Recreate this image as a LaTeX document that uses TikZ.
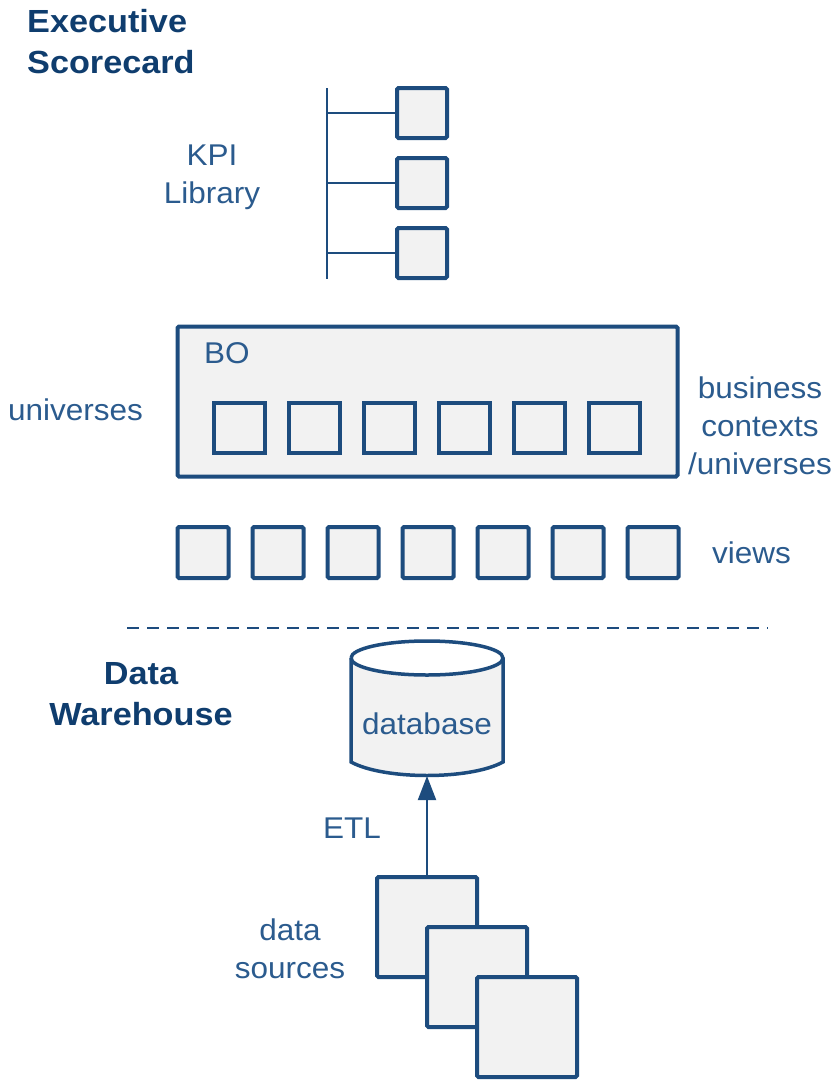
\documentclass[tikz,border=0pt]{standalone}
\usepackage{fontspec}
\setmainfont{Liberation Sans}
\newfontfamily\lblfont[FakeStretch=1.05]{Liberation Sans}
\newfontfamily\hdfont[FakeStretch=1.07]{Liberation Sans}
\usetikzlibrary{arrows.meta}
\definecolor{txtblue}{HTML}{2B5B8E}
\definecolor{hdblue}{HTML}{0F3D6E}
\definecolor{lineblue}{HTML}{1D4C7E}
\definecolor{boxfill}{HTML}{F2F2F2}
\tikzset{
  sq/.style={draw=lineblue, line width=4pt, fill=boxfill, rounded corners=1.5pt},
  lbl/.style={text=txtblue, font=\lblfont\fontsize{30}{38}\selectfont, inner sep=0pt, align=center},
  hd/.style={text=hdblue, font=\hdfont\bfseries\fontsize{32}{41}\selectfont, inner sep=0pt},
  conn/.style={draw=lineblue, line width=2pt},
}
\begin{document}
\begin{tikzpicture}[x=1pt,y=-1pt]
\useasboundingbox (0,0) rectangle (837,1081);
% headings
\node[hd, align=left, anchor=north west] (exec) at (27,9) {Executive\\Scorecard};
\node[lbl] (kpi) at (212,177) {KPI\\Library};
% KPI tree
\coordinate (vtop) at (327,88);
\coordinate (vbot) at (327,279);
\draw[conn] (vtop) -- (vbot);
\foreach \i/\y in {1/113,2/183,3/253}{
  \node[sq, minimum width=50pt, minimum height=50pt, inner sep=0pt] (k\i) at (422,\y) {};
  \coordinate (h\i) at (327,\y);
  \draw[conn] (h\i) -- (k\i.west);
}
% BO box
\node[sq, minimum width=500pt, minimum height=150pt, inner sep=0pt] (bo) at (427.5,401.5) {};
\node[lbl, anchor=north west] (bolbl) at (204,342) {BO};
\foreach \i in {0,...,5}{
  \node[draw=lineblue, line width=4pt, fill=boxfill, minimum width=51pt, minimum height=50pt, inner sep=0pt] (u\i) at (239+75*\i,428) {};
}
\node[lbl, anchor=west] (univ) at (8,410) {universes};
\node[lbl, align=center] (bc) at (760,426) {business\\contexts\\/universes};
% views
\foreach \i in {0,...,6}{
  \node[sq, minimum width=51pt, minimum height=51pt, inner sep=0pt] (v\i) at (203+75*\i,552.5) {};
}
\node[lbl, anchor=west] (views) at (712,553) {views};
% dashed separator
\coordinate (d1) at (127,628);
\coordinate (d2) at (768,628);
\draw[draw=lineblue, line width=2pt, dash pattern=on 12pt off 8pt] (d1) -- (d2);
% data warehouse
\node[hd, align=center] (dw) at (141,694) {Data\\Warehouse};
% cylinder
\fill[boxfill] (351,658) arc[start angle=180, end angle=0, x radius=76, y radius=17] -- (503,762) .. controls (470,780) and (384,780) .. (351,762) -- cycle;
\draw[draw=lineblue, line width=3.5pt] (351,658) arc[start angle=180, end angle=-180, x radius=76, y radius=17];
\draw[draw=lineblue, line width=3.5pt] (351,658) -- (351,762) .. controls (384,780) and (470,780) .. (503,762) -- (503,658);
\node[lbl] (db) at (427,724) {database};
\coordinate (dbbot) at (427,776);
% data sources
\node[sq, minimum width=100pt, minimum height=100pt, inner sep=0pt] (s1) at (427,927) {};
\node[sq, minimum width=100pt, minimum height=100pt, inner sep=0pt] (s2) at (477,977) {};
\node[sq, minimum width=100pt, minimum height=100pt, inner sep=0pt] (s3) at (527,1027) {};
\draw[conn, -{Triangle[length=24pt, width=18pt]}] (s1.north) -- (dbbot);
\node[lbl] (etl) at (352,828) {ETL};
\node[lbl] (ds) at (290,949) {data\\sources};
\end{tikzpicture}
\end{document}
